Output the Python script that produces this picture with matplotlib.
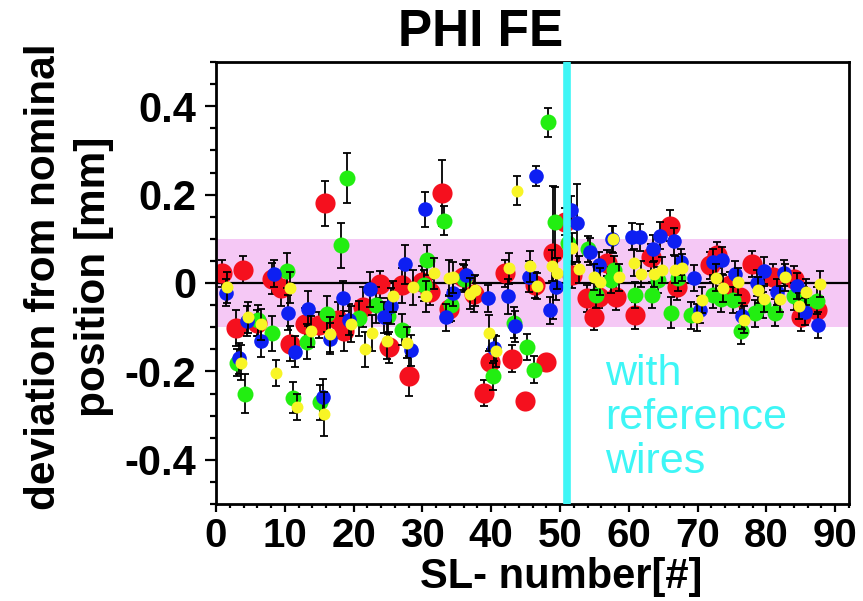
import matplotlib
matplotlib.use("Agg")
import matplotlib.pyplot as plt
from matplotlib.ticker import MultipleLocator

plt.rcParams['font.family'] = ['Liberation Sans', 'DejaVu Sans']
plt.rcParams['font.weight'] = 'bold'

# ---------------- data ----------------
xr = [0.8, 2.9, 3.9, 6.0, 8.1, 9.5, 10.8, 12.9, 14.9, 15.9,
      17.8, 18.6, 21.4, 23.9, 25.1, 27.0, 28.1, 29.9, 31.1, 32.9,
      33.8, 35.9, 37.5, 39.0, 39.8, 42.0, 43.0, 44.9, 46.3, 48.0,
      49.0, 50.7, 51.7, 53.9, 55.0, 55.6, 56.8, 58.1, 60.9, 63.2,
      66.0, 67.0, 71.8, 72.8, 74.7, 76.2, 77.9, 81.0, 84.0, 85.0,
      87.3]
yr = [0.022, -0.102, 0.030, -0.090, 0.010, -0.012, -0.137, -0.092, -0.095, 0.180,
      -0.084, -0.108, -0.055, -0.003, -0.145, -0.005, -0.210, 0.003, -0.020, 0.204,
      -0.058, 0.014, -0.025, -0.249, -0.179, 0.022, -0.171, -0.266, -0.005, -0.179,
      0.069, 0.139, 0.018, -0.035, -0.077, -0.031, 0.045, -0.031, -0.073, 0.058,
      0.130, -0.008, 0.040, 0.063, -0.005, -0.031, 0.043, 0.014, 0.008, -0.078,
      -0.061]
er = [0.030, 0.040, 0.030, 0.030, 0.035, 0.040, 0.040, 0.035, 0.030, 0.050,
      0.040, 0.045, 0.045, 0.030, 0.035, 0.040, 0.045, 0.035, 0.030, 0.075,
      0.030, 0.030, 0.040, 0.030, 0.030, 0.030, 0.030, 0.010, 0.030, 0.010,
      0.150, 0.030, 0.030, 0.030, 0.030, 0.025, 0.030, 0.030, 0.030, 0.030,
      0.035, 0.030, 0.030, 0.030, 0.030, 0.035, 0.030, 0.030, 0.030, 0.030,
      0.030]

xg = [3.0, 4.2, 6.1, 8.2, 10.3, 11.2, 13.2, 15.1, 16.2, 18.2,
      19.1, 20.8, 23.3, 25.0, 27.1, 30.3, 30.6, 33.2, 34.1, 36.0,
      40.2, 43.3, 45.2, 46.2, 48.3, 49.2, 51.2, 54.1, 55.2, 57.4,
      57.8, 60.9, 63.3, 64.3, 66.2, 67.2, 69.1, 72.3, 73.4, 75.2,
      76.3, 78.3, 79.5, 81.2, 84.0, 85.5, 87.3]
yg = [-0.180, -0.250, -0.084, -0.114, 0.028, -0.260, -0.133, -0.270, -0.070, 0.085,
      0.238, -0.080, -0.050, -0.075, -0.106, -0.005, 0.052, 0.141, -0.050, 0.010,
      -0.211, -0.090, -0.145, -0.196, 0.364, 0.137, 0.090, 0.077, -0.027, 0.007,
      0.030, -0.027, -0.027, 0.007, -0.067, 0.011, -0.073, -0.027, -0.036, -0.039,
      -0.109, -0.069, -0.050, -0.067, -0.030, -0.040, -0.040]
eg = [0.030, 0.045, 0.035, 0.040, 0.040, 0.035, 0.040, 0.040, 0.040, 0.050,
      0.057, 0.040, 0.040, 0.040, 0.035, 0.035, 0.035, 0.033, 0.035, 0.030,
      0.030, 0.035, 0.030, 0.030, 0.033, 0.080, 0.040, 0.030, 0.030, 0.030,
      0.030, 0.030, 0.030, 0.030, 0.035, 0.030, 0.030, 0.030, 0.030, 0.030,
      0.030, 0.030, 0.030, 0.030, 0.030, 0.030, 0.030]

xb = [1.4, 3.4, 4.5, 6.5, 8.4, 10.4, 11.5, 13.4, 15.5, 16.5,
      18.4, 19.4, 22.4, 24.4, 25.5, 27.5, 28.4, 30.4, 33.4, 34.5,
      36.4, 39.6, 40.4, 42.4, 43.5, 45.5, 46.5, 48.5, 49.4, 51.6,
      52.4, 54.4, 55.6, 57.5, 60.4, 61.6, 63.5, 64.5, 66.5, 67.6,
      69.5, 70.4, 72.3, 73.5, 75.5, 76.4, 78.6, 79.6, 81.5, 82.6,
      84.4, 85.6, 87.5]
yb = [-0.022, -0.170, -0.086, -0.132, 0.021, -0.067, -0.155, -0.058, -0.257, -0.126,
      -0.035, -0.083, -0.014, -0.078, -0.052, 0.042, -0.152, 0.167, -0.078, -0.022,
      0.018, -0.035, -0.147, -0.030, -0.098, 0.014, 0.242, -0.062, -0.008, 0.166,
      0.136, 0.071, 0.041, 0.100, 0.105, 0.103, 0.078, 0.107, 0.094, 0.048,
      0.011, -0.060, 0.047, 0.051, 0.020, -0.075, 0.000, 0.028, -0.020, 0.023,
      -0.007, -0.065, -0.095]
eb = [0.030, 0.035, 0.035, 0.035, 0.030, 0.040, 0.035, 0.040, 0.040, 0.035,
      0.040, 0.035, 0.040, 0.035, 0.040, 0.045, 0.035, 0.040, 0.030, 0.030,
      0.035, 0.030, 0.030, 0.040, 0.035, 0.035, 0.022, 0.030, 0.030, 0.030,
      0.088, 0.030, 0.030, 0.030, 0.030, 0.030, 0.030, 0.030, 0.030, 0.030,
      0.030, 0.030, 0.030, 0.030, 0.030, 0.030, 0.030, 0.030, 0.030, 0.030,
      0.030, 0.030, 0.030]

xy = [1.6, 3.6, 4.7, 6.6, 8.7, 10.7, 11.7, 13.8, 15.7, 16.6,
      19.6, 21.7, 22.7, 24.8, 25.7, 27.7, 28.7, 30.5, 31.7, 33.8,
      34.4, 36.9, 37.6, 39.7, 40.7, 42.6, 43.7, 45.7, 46.7, 48.8,
      49.6, 51.7, 52.7, 54.9, 55.8, 57.7, 58.6, 60.8, 61.8, 63.7,
      64.8, 66.7, 67.8, 69.9, 70.7, 72.7, 73.7, 75.8, 76.8, 78.8,
      79.7, 81.9, 82.7, 84.8, 85.8, 87.8]
yy = [-0.010, -0.180, -0.077, -0.093, -0.204, -0.011, -0.280, -0.109, -0.296, -0.116,
      -0.093, -0.150, -0.113, -0.131, -0.030, -0.135, -0.010, -0.030, 0.022, 0.011,
      0.013, -0.024, -0.016, -0.113, -0.154, 0.033, 0.209, 0.038, -0.007, 0.039,
      0.022, 0.079, 0.031, 0.014, 0.003, 0.099, 0.013, 0.046, 0.020, 0.020,
      0.029, 0.030, 0.035, -0.078, -0.039, 0.012, -0.012, 0.003, -0.083, -0.016,
      -0.036, -0.036, 0.013, -0.052, -0.020, -0.002]
ey = [0.035, 0.040, 0.035, 0.035, 0.030, 0.035, 0.030, 0.035, 0.050, 0.040,
      0.040, 0.040, 0.040, 0.040, 0.035, 0.035, 0.040, 0.035, 0.035, 0.040,
      0.035, 0.035, 0.035, 0.040, 0.035, 0.035, 0.032, 0.035, 0.030, 0.035,
      0.035, 0.035, 0.030, 0.030, 0.030, 0.030, 0.030, 0.030, 0.030, 0.030,
      0.030, 0.030, 0.030, 0.030, 0.030, 0.030, 0.030, 0.030, 0.030, 0.030,
      0.030, 0.030, 0.030, 0.030, 0.030, 0.030]

band_lo, band_hi = -0.1, 0.1
ref_sl = 51.0
ytick_vals = [-0.4, -0.2, 0.0, 0.2, 0.4]
ytick_labels = ['-0.4', '-0.2', '0', '0.2', '0.4']
xtick_vals = [0, 10, 20, 30, 40, 50, 60, 70, 80, 90]

# ---------------- figure ----------------
fig = plt.figure(figsize=(8.63, 6.01), dpi=100)
ax = fig.add_axes([216/863, 1-504/601, (849-216)/863, (504-62)/601])
ax.set_xlim(0, 92)
ax.set_ylim(-0.5, 0.5)

ax.axhspan(band_lo, band_hi, color='#f5c8f5', lw=0, zorder=0)
ax.axhline(0, color='black', lw=1.6, zorder=1)

series = [
    (xr, yr, er, '#f5101e', 14.5),
    (xg, yg, eg, '#22ee11', 11.5),
    (xb, yb, eb, '#0d1ff2', 10.5),
    (xy, yy, ey, '#f8f525', 8.6),
]
z = 2
for xs, ys, es, col, ms in series:
    ax.errorbar(xs, ys, yerr=es, fmt='o', ms=ms, color=col, mec='none',
                ecolor='black', elinewidth=1.3, capsize=3.2, capthick=1.3,
                zorder=z)
    z += 1

ax.axvline(ref_sl, color='#3ef6f6', lw=5.5, zorder=10)

for s in ax.spines.values():
    s.set_linewidth(2.0)

ax.set_xticks(xtick_vals)
ax.set_xticklabels([str(v) for v in xtick_vals])
ax.xaxis.set_minor_locator(MultipleLocator(2))
ax.set_yticks(ytick_vals)
ax.set_yticklabels(ytick_labels)
ax.yaxis.set_minor_locator(MultipleLocator(0.05))

ax.tick_params(axis='y', which='major', direction='out', length=8, width=1.6,
               labelsize=30, pad=6)
ax.tick_params(axis='y', which='minor', direction='out', length=4, width=1.6)
ax.tick_params(axis='x', which='major', direction='out', length=5.5, width=1.6,
               labelsize=29, pad=4)
ax.tick_params(axis='x', which='minor', direction='out', length=3, width=1.6)
for lab in ax.get_xticklabels() + ax.get_yticklabels():
    lab.set_fontweight('bold')

fig.text(481/863, 1-32/601, 'PHI FE', ha='center', va='center',
         fontsize=37, fontweight='bold')
fig.text(69/863, 1-277/601, 'deviation from nominal\nposition [mm]',
         rotation=90, ha='center', va='center', fontsize=30.5,
         fontweight='bold', linespacing=1.3, multialignment='center')
fig.text(561/863, 1-577/601, 'SL- number[#]', ha='center', va='center',
         fontsize=30, fontweight='bold')
fig.text(605/863, 1-418/601, 'with\nreference\nwires', ha='left', va='center',
         fontsize=31, color='#3ef6f6', fontweight='normal', linespacing=1.12)

fig.savefig('out.png', dpi=100)
